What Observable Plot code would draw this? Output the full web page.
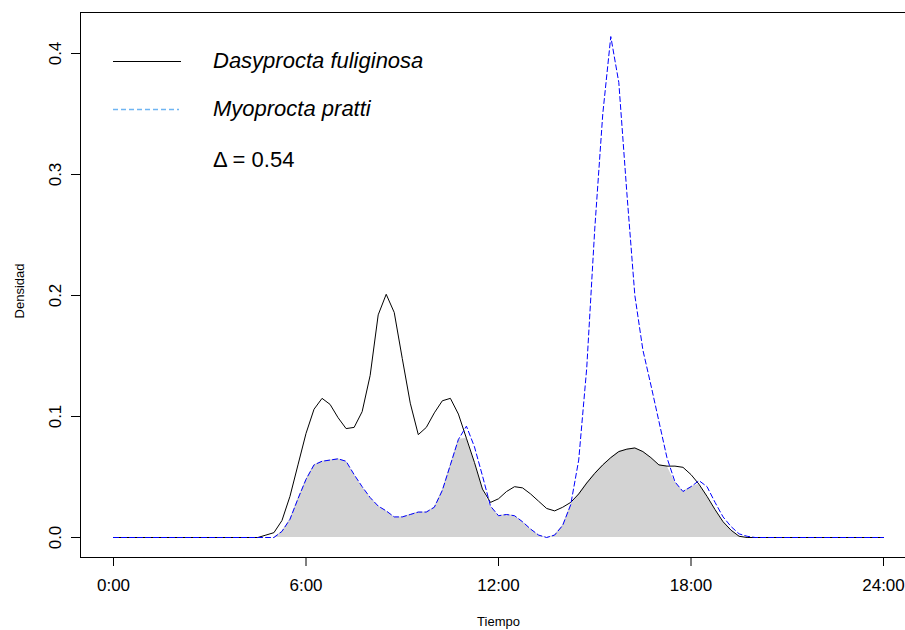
<!DOCTYPE html>
<html lang="es">
<head>
<meta charset="utf-8">
<script src="https://cdn.jsdelivr.net/npm/d3@7"></script>
<script src="https://cdn.jsdelivr.net/npm/@observablehq/plot@0.6"></script>
<style>
  html, body { margin: 0; padding: 0; background: #fff; }
  #chart { position: relative; width: 905px; height: 630px; overflow: hidden;
           font-family: "Liberation Sans", Arial, sans-serif; }
  #legend { position: absolute; left: 113px; top: 0; }
  .row { position: absolute; left: 0; height: 30px; display: flex; align-items: center; white-space: nowrap; }
  .row svg { display: block; }
  .row span { margin-left: 32px; font-size: 22px; color: #000; }
  .row span.sp { font-style: italic; }
</style>
</head>
<body>
<div id="chart"></div>
<script>
// Hora del día (0–24 h) en la que se estima cada densidad de actividad
const hours = [0, 4.5, 4.75, 5, 5.25, 5.5, 5.75, 6, 6.25, 6.5, 6.75, 7, 7.25, 7.5, 7.75,
  8, 8.25, 8.5, 8.75, 9, 9.25, 9.5, 9.75, 10, 10.25, 10.5, 10.75, 11, 11.25, 11.5, 11.75,
  12, 12.25, 12.5, 12.75, 13, 13.25, 13.5, 13.75, 14, 14.25, 14.5, 14.75, 15, 15.25, 15.5, 15.75,
  16, 16.25, 16.5, 16.75, 17, 17.25, 17.5, 17.75, 18, 18.25, 18.5, 18.75, 19, 19.25, 19.5, 19.75,
  20, 24];

// Densidad de actividad de Dasyprocta fuliginosa
const dasyprocta = [0, 0, 0.002, 0.004, 0.014, 0.034, 0.060, 0.086, 0.106, 0.115, 0.110, 0.099, 0.090, 0.091, 0.104,
  0.134, 0.184, 0.201, 0.186, 0.148, 0.111, 0.085, 0.091, 0.103, 0.113, 0.115, 0.102, 0.082, 0.062, 0.040, 0.029,
  0.032, 0.038, 0.042, 0.041, 0.036, 0.030, 0.024, 0.022, 0.025, 0.029, 0.036, 0.045, 0.053, 0.060, 0.066, 0.071,
  0.073, 0.074, 0.071, 0.066, 0.060, 0.059, 0.059, 0.058, 0.052, 0.044, 0.034, 0.023, 0.013, 0.006, 0.001, 0,
  0, 0];

// Densidad de actividad de Myoprocta pratti
const myoprocta = [0, 0, 0, 0, 0.005, 0.015, 0.032, 0.048, 0.060, 0.063, 0.064, 0.065, 0.063, 0.052, 0.042,
  0.033, 0.026, 0.022, 0.017, 0.017, 0.019, 0.021, 0.021, 0.025, 0.039, 0.060, 0.081, 0.092, 0.075, 0.051, 0.026,
  0.018, 0.019, 0.018, 0.013, 0.007, 0.002, 0, 0.002, 0.010, 0.027, 0.064, 0.140, 0.255, 0.350, 0.414, 0.376,
  0.285, 0.200, 0.155, 0.126, 0.096, 0.066, 0.046, 0.038, 0.042, 0.047, 0.042, 0.029, 0.017, 0.009, 0.003, 0.001,
  0, 0];

const xTicks = [0, 6, 12, 18, 24];
const xTickLabels = ["0:00", "6:00", "12:00", "18:00", "24:00"];
const yTicks = [0, 0.1, 0.2, 0.3, 0.4];
const yTickLabels = ["0.0", "0.1", "0.2", "0.3", "0.4"];
const overlapLabel = "Δ = 0.54";

const rows = hours.map((h, i) => ({hour: h, d: dasyprocta[i], m: myoprocta[i]}));
const FONT = "'Liberation Sans', Arial, sans-serif";

const plot = Plot.plot({
  width: 905,
  height: 630,
  marginLeft: 80,
  marginTop: 12,
  marginRight: 0,
  marginBottom: 73,
  style: {fontFamily: FONT, background: "#fff", color: "#000"},
  x: {domain: [0, 24], range: [113, 883], axis: null},
  y: {domain: [0, 0.4], range: [537, 53], axis: null},
  marks: [
    // zona de solapamiento (mínimo de ambas densidades)
    Plot.areaY(rows, {x: "hour", y1: 0, y2: d => Math.min(d.d, d.m), fill: "#D3D3D3"}),
    Plot.lineY(rows, {x: "hour", y: "d", stroke: "#000", strokeWidth: 1}),
    Plot.lineY(rows, {x: "hour", y: "m", stroke: "#0000FF", strokeWidth: 1, strokeDasharray: "5,3"}),
    Plot.frame({stroke: "#000", insetRight: -12}),
    Plot.axisX(xTicks, {
      anchor: "bottom", tickSize: 9, tickPadding: 12, fontSize: 17, label: null,
      tickFormat: d => xTickLabels[xTicks.indexOf(d)]
    }),
    Plot.axisY(yTicks, {anchor: "left", tickSize: 9, tickFormat: () => "", label: null}),
    Plot.text(yTicks, {
      y: d => d, text: d => yTickLabels[yTicks.indexOf(d)], frameAnchor: "left",
      dx: -20, rotate: -90, fontSize: 17, textAnchor: "middle", lineAnchor: "bottom"
    }),
    Plot.text(["Tiempo"], {
      x: () => 12, text: d => d, frameAnchor: "bottom", lineAnchor: "bottom",
      dy: 68, fontSize: 13, textAnchor: "middle"
    }),
    Plot.text(["Densidad"], {
      text: d => d, frameAnchor: "left", rotate: -90, lineAnchor: "bottom",
      dx: -57, dy: 6, fontSize: 13, textAnchor: "middle"
    })
  ]
});

const chart = document.getElementById("chart");
chart.appendChild(plot);

// Leyenda
const legend = document.createElement("div");
legend.id = "legend";
legend.innerHTML = `
  <div class="row" style="top:46px">
    <svg width="68" height="30"><line x1="0" x2="68" y1="15.5" y2="15.5" stroke="#000" stroke-width="1"/></svg>
    <span class="sp">Dasyprocta fuliginosa</span>
  </div>
  <div class="row" style="top:94px">
    <svg width="68" height="30"><line x1="0" x2="66" y1="15.5" y2="15.5" stroke="#6FB5F2" stroke-width="1.3" stroke-dasharray="5,3"/></svg>
    <span class="sp">Myoprocta pratti</span>
  </div>
  <div class="row" style="top:145px">
    <svg width="68" height="30"></svg>
    <span>${overlapLabel}</span>
  </div>`;
chart.appendChild(legend);
</script>
</body>
</html>
